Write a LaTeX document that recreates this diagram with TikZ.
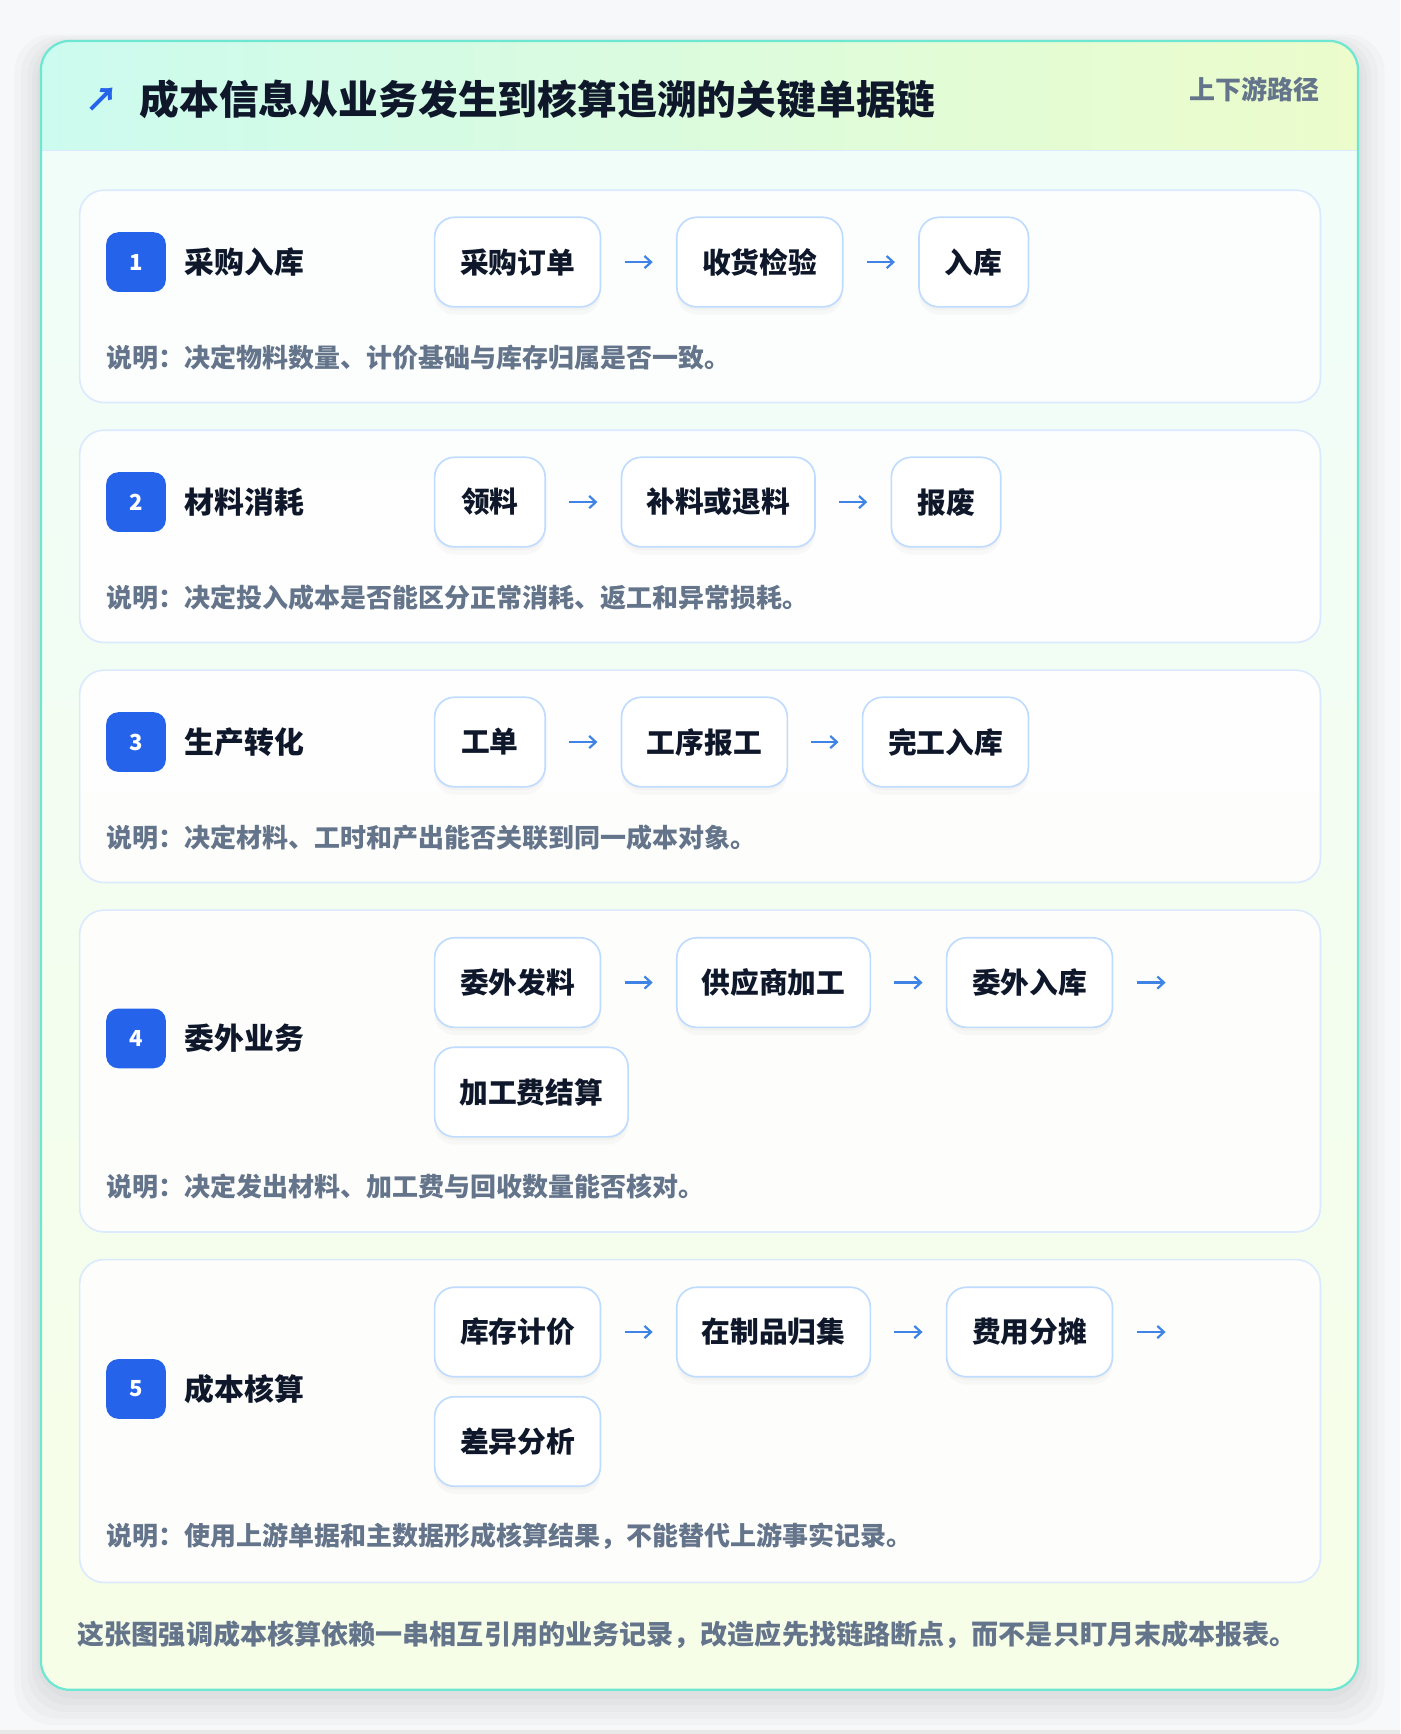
\documentclass[tikz,border=0pt]{standalone}
\usepackage{fontspec}
\setmainfont{Noto Sans CJK SC}
\usetikzlibrary{arrows.meta}

\definecolor{pagebg}{HTML}{F7F8F9}
\definecolor{tealline}{HTML}{6EE7D2}
\definecolor{headl}{HTML}{CCFBEF}
\definecolor{headr}{HTML}{ECFCCB}
\definecolor{bodytop}{HTML}{F0FDF9}
\definecolor{bodybot}{HTML}{F7FEE7}
\definecolor{cardline}{HTML}{DBEAFE}
\definecolor{boxline}{HTML}{BFDBFE}
\definecolor{badgeblue}{HTML}{2563EB}
\definecolor{arrowblue}{HTML}{3F84E5}
\definecolor{ink}{HTML}{0F172A}
\definecolor{muted}{HTML}{64748B}

\begin{document}
\begin{tikzpicture}[x=1pt, y=-1pt,
    every node/.style={inner sep=0pt, align=center},
    card/.style={draw=cardline, line width=1.5pt, fill=white, fill opacity=0.85, rounded corners=22pt},
    halo/.style={fill=black, fill opacity=0.018, rounded corners=34pt},
    stepbox/.style={draw=boxline, line width=1.5pt, fill=white, rounded corners=18pt,
        minimum height=81pt, text=ink, font=\fontsize{26}{30}\selectfont\bfseries,
        preaction={fill=black, fill opacity=0.025, transform canvas={yshift=-7pt}},
        preaction={fill=black, fill opacity=0.025, transform canvas={yshift=-3pt}}},
    badge/.style={fill=badgeblue, rounded corners=11pt, minimum size=54pt, text=white,
        font=\fontsize{20}{24}\selectfont\bfseries},
    sectitle/.style={anchor=west, text=ink, font=\fontsize{27}{32}\selectfont\bfseries},
    note/.style={anchor=west, text=muted, font=\fontsize{23.5}{28}\selectfont\bfseries},
    flow/.style={draw=arrowblue, line width=2pt, shorten <=21pt, shorten >=21pt,
        -{Straight Barb[length=6pt, width=11pt]}}]
			%Page and outer card
			\fill[pagebg] (0,0) rectangle (1266,1568);
			\fill[gray!18] (0,1564) rectangle (1266,1568);
			\fill[halo] (13,31) rectangle (1252,1560);
			\fill[halo] (19,33) rectangle (1246,1554);
			\fill[halo] (25,35) rectangle (1240,1548);
			\fill[halo] (29,37) rectangle (1236,1542);
			\fill[halo] (33,39) rectangle (1232,1536);
			\begin{scope}
				\clip[rounded corners=26pt] (37,37) rectangle (1228,1528);
				\shade[top color=bodytop, bottom color=bodybot] (37,136) rectangle (1228,1528);
				\shade[left color=headl, right color=headr] (37,37) rectangle (1228,136);
			\end{scope}
			\draw[cardline, line width=1.5pt] (37,136) -- (1228,136);
			\draw[tealline, line width=2pt, rounded corners=26pt] (37,37) rectangle (1228,1528);
			%Header
			\node[text=badgeblue, font=\fontsize{30}{34}\selectfont\bfseries] (icon) at (92,90) {↗};
			\node[anchor=west, text=ink, font=\fontsize{36}{42}\selectfont\bfseries] (title) at (126,90) {成本信息从业务发生到核算追溯的关键单据链};
			\node[anchor=east, text=muted, font=\fontsize{23.5}{28}\selectfont\bfseries] (tag) at (1193,81) {上下游路径};
			%Cards
			\draw[card] (72,172) rectangle (1194,364);
			\draw[card] (72,389) rectangle (1194,581);
			\draw[card] (72,606) rectangle (1194,798);
			\draw[card] (72,823) rectangle (1194,1114);
			\draw[card] (72,1139) rectangle (1194,1431);
			%Card 1
			\node[badge] (n1) at (123,237) {1};
			\node[sectitle] (t1) at (167,237) {采购入库};
			\node[stepbox, minimum width=150pt] (s11) at (468,237) {采购订单};
			\node[stepbox, minimum width=150pt] (s12) at (687,237) {收货检验};
			\node[stepbox, minimum width=99pt] (s13) at (880.5,237) {入库};
			\draw[flow] (s11) -- (s12);
			\draw[flow] (s12) -- (s13);
			\node[note] (d1) at (96,323) {说明：决定物料数量、计价基础与库存归属是否一致。};
			%Card 2
			\node[badge] (n2) at (123,454) {2};
			\node[sectitle] (t2) at (167,454) {材料消耗};
			\node[stepbox, minimum width=100pt] (s21) at (443,454) {领料};
			\node[stepbox, minimum width=175pt] (s22) at (649.5,454) {补料或退料};
			\node[stepbox, minimum width=99pt] (s23) at (855.5,454) {报废};
			\draw[flow] (s21) -- (s22);
			\draw[flow] (s22) -- (s23);
			\node[note] (d2) at (96,540) {说明：决定投入成本是否能区分正常消耗、返工和异常损耗。};
			%Card 3
			\node[badge] (n3) at (123,671) {3};
			\node[sectitle] (t3) at (167,671) {生产转化};
			\node[stepbox, minimum width=100pt] (s31) at (443,671) {工单};
			\node[stepbox, minimum width=150pt] (s32) at (637,671) {工序报工};
			\node[stepbox, minimum width=150pt] (s33) at (855,671) {完工入库};
			\draw[flow] (s31) -- (s32);
			\draw[flow] (s32) -- (s33);
			\node[note] (d3) at (96,757) {说明：决定材料、工时和产出能否关联到同一成本对象。};
			%Card 4
			\node[badge] (n4) at (123,939) {4};
			\node[sectitle] (t4) at (167,939) {委外业务};
			\node[stepbox, minimum width=150pt] (s41) at (468,888.5) {委外发料};
			\node[stepbox, minimum width=175pt] (s42) at (699.5,888.5) {供应商加工};
			\node[stepbox, minimum width=150pt] (s43) at (931,888.5) {委外入库};
			\node[stepbox, minimum width=175pt] (s44) at (480.5,987.5) {加工费结算};
			\coordinate (e4) at (1075,888.5);
			\draw[flow] (s41) -- (s42);
			\draw[flow] (s42) -- (s43);
			\draw[flow] (s43) -- (e4);
			\node[note] (d4) at (96,1073) {说明：决定发出材料、加工费与回收数量能否核对。};
			%Card 5
			\node[badge] (n5) at (123,1256) {5};
			\node[sectitle] (t5) at (167,1256) {成本核算};
			\node[stepbox, minimum width=150pt] (s51) at (468,1204.5) {库存计价};
			\node[stepbox, minimum width=175pt] (s52) at (699.5,1204.5) {在制品归集};
			\node[stepbox, minimum width=150pt] (s53) at (931,1204.5) {费用分摊};
			\node[stepbox, minimum width=150pt] (s54) at (468,1303.5) {差异分析};
			\coordinate (e5) at (1075,1204.5);
			\draw[flow] (s51) -- (s52);
			\draw[flow] (s52) -- (s53);
			\draw[flow] (s53) -- (e5);
			\node[note] (d5) at (96,1389) {说明：使用上游单据和主数据形成核算结果，不能替代上游事实记录。};
			%Footer
			\node[anchor=west, text=muted, font=\fontsize{24.5}{29}\selectfont\bfseries] (foot) at (70,1478) {这张图强调成本核算依赖一串相互引用的业务记录，改造应先找链路断点，而不是只盯月末成本报表。};
		\end{tikzpicture}
\end{document}
